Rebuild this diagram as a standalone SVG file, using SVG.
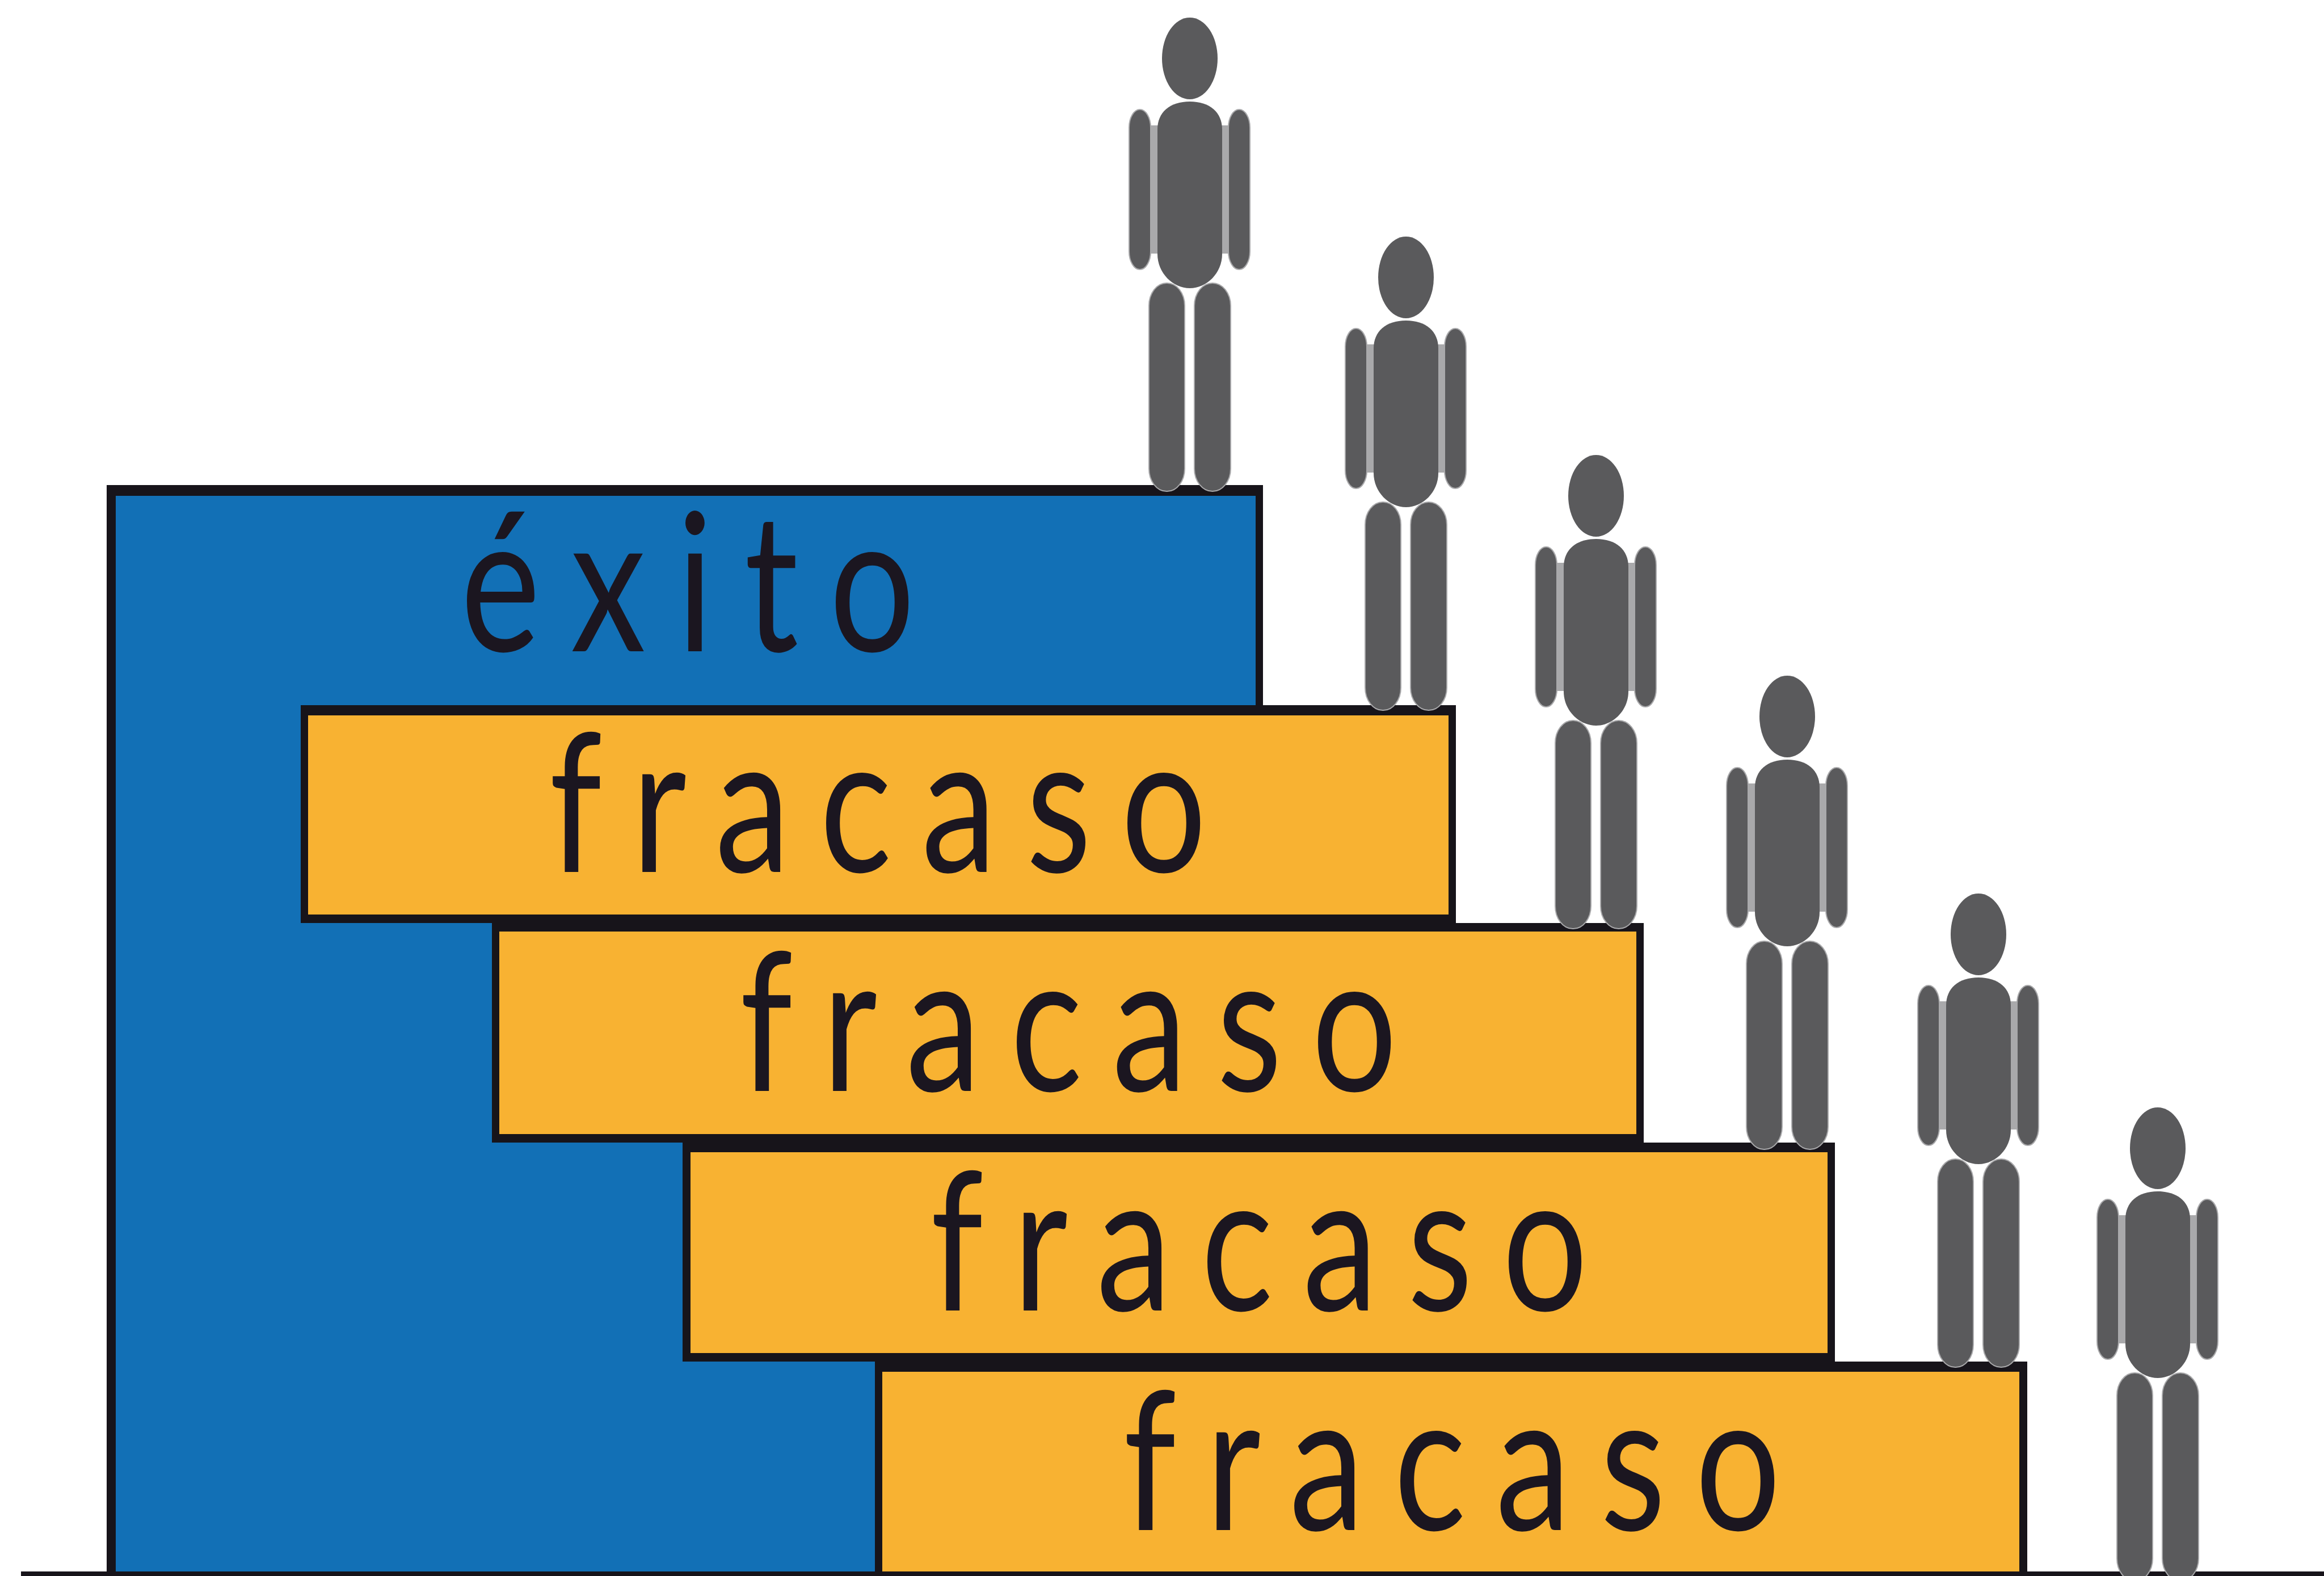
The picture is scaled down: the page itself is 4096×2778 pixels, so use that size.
<svg xmlns="http://www.w3.org/2000/svg" width="4096" height="2778" viewBox="0 0 4096 2778">
<style>
.k{fill:#17141a}.b{fill:#1270b6}.o{fill:#f8b232}.p{fill:#5a5a5c}.g{fill:#a9a9ab}.l{fill:#5a5a5c;stroke:#a9a9ab;stroke-width:2}
text{font-family:"Lato","Open Sans","Liberation Sans",sans-serif;font-size:340px;fill:#1b1620}
</style>
<defs>
<g id="person">
<rect class="g" x="-70" y="118" width="14" height="226"/>
<rect class="g" x="56" y="118" width="13" height="226"/>
<ellipse class="p" cx="0" cy="0" rx="49" ry="72"/>
<path class="p" d="M-57,125C-57,95 -35,76 0,76C35,76 57,95 57,125V345C57,378 30,405 0,405C-30,405 -57,378 -57,345Z"/>
<rect class="l" x="-107" y="90" width="38" height="282" rx="19" ry="32"/>
<rect class="l" x="68" y="90" width="38" height="282" rx="19" ry="32"/>
<rect class="l" x="-72" y="396" width="63" height="367" rx="31" ry="40"/>
<rect class="l" x="8" y="396" width="64" height="367" rx="32" ry="40"/>
</g>
</defs>
<rect width="4096" height="2778" fill="#fff"/>
<g id="box-exito">
<rect class="k" x="188" y="855" width="2038" height="1923"/>
<rect class="b" x="204" y="874" width="2009" height="1904"/>
<text transform="translate(812,1148) scale(0.78,1)" x="0" y="0" textLength="1026" lengthAdjust="spacing">éxito</text>
</g>
<g id="box-fracaso-1">
<rect class="k" x="530" y="1243" width="2036" height="384"/>
<rect class="o" x="543" y="1261" width="2010" height="351"/>
<text transform="translate(968,1537) scale(0.78,1)" x="0" y="0" textLength="1485" lengthAdjust="spacing">fracaso</text>
</g>
<g id="box-fracaso-2">
<rect class="k" x="867" y="1627" width="2030" height="387"/>
<rect class="o" x="880" y="1642" width="2004" height="357"/>
<text transform="translate(1304,1923) scale(0.78,1)" x="0" y="0" textLength="1485" lengthAdjust="spacing">fracaso</text>
</g>
<g id="box-fracaso-3">
<rect class="k" x="1203" y="2014" width="2031" height="386"/>
<rect class="o" x="1217" y="2031" width="2004" height="354"/>
<text transform="translate(1640,2310) scale(0.78,1)" x="0" y="0" textLength="1485" lengthAdjust="spacing">fracaso</text>
</g>
<g id="box-fracaso-4">
<rect class="k" x="1542" y="2400" width="2031" height="378"/>
<rect class="o" x="1555" y="2418" width="2004" height="352"/>
<text transform="translate(1980,2697) scale(0.78,1)" x="0" y="0" textLength="1485" lengthAdjust="spacing">fracaso</text>
</g>
<g id="baseline"><rect class="k" x="37" y="2770" width="4059" height="8"/></g>
<g id="person-1"><use href="#person" x="2097" y="103"/></g>
<g id="person-2"><use href="#person" x="2478" y="489"/></g>
<g id="person-3"><use href="#person" x="2813" y="874"/></g>
<g id="person-4"><use href="#person" x="3150" y="1263"/></g>
<g id="person-5"><use href="#person" x="3487" y="1647"/></g>
<g id="person-6"><use href="#person" x="3803" y="2024"/></g>
</svg>
